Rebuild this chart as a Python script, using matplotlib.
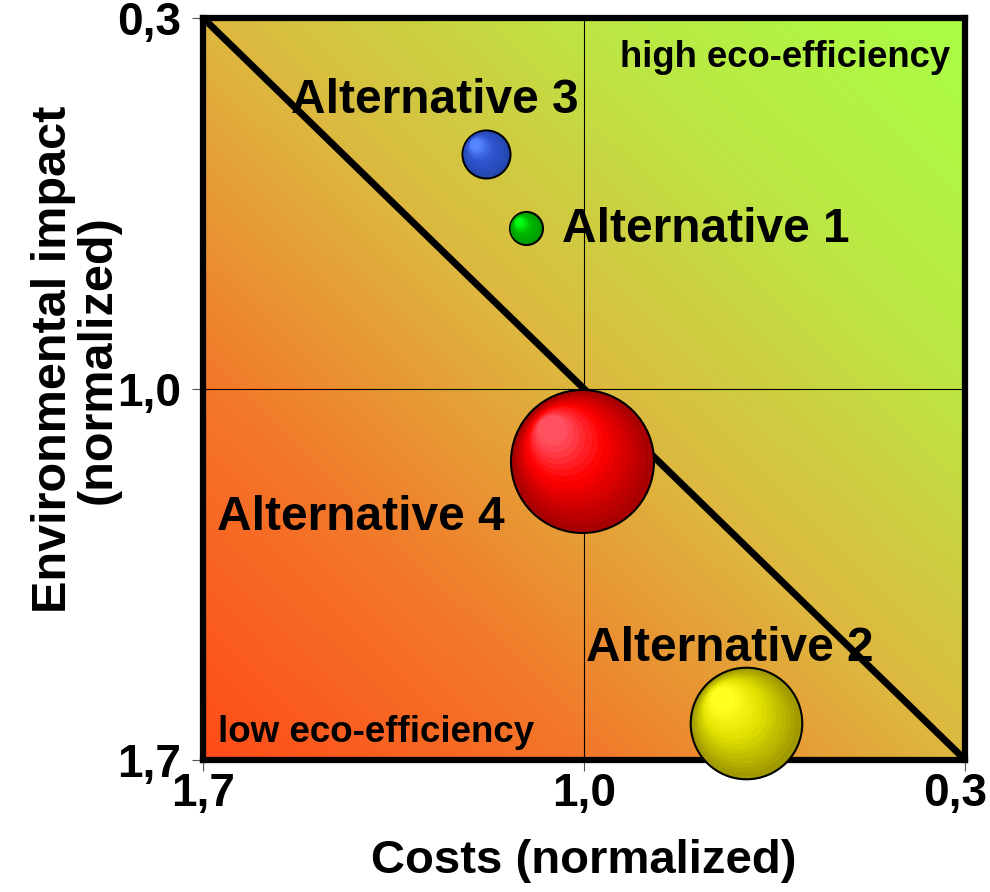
import numpy as np
import matplotlib.pyplot as plt
from matplotlib.colors import LinearSegmentedColormap, to_rgb
from matplotlib.patches import Rectangle
from matplotlib.transforms import offset_copy, ScaledTranslation

plt.rcParams['font.family'] = ['Liberation Sans', 'DejaVu Sans']
plt.rcParams['font.weight'] = 'bold'
plt.rcParams['hatch.linewidth'] = 0.6

# eco-efficiency portfolio
names = ['Alternative 1', 'Alternative 2', 'Alternative 3', 'Alternative 4']
costs = [1.107, 0.703, 1.181, 1.003]
impact = [0.697, 1.630, 0.557, 1.136]
bubble_size = [564, 6455, 1194, 10600]
# edge, body, highlight
bubble_colors = [
    ('#009a00', '#00b800', '#00ff10'),
    ('#a09a00', '#e0e000', '#ffff20'),
    ('#2448b0', '#2f55d0', '#5585ff'),
    ('#a80000', '#ff0000', '#ff5060'),
]
label_pos = [(1.040, 0.700, 'left'), (0.732, 1.489, 'center'),
             (1.274, 0.455, 'center'), (1.410, 1.243, 'center')]

ticks = [1.7, 1.0, 0.3]
tick_labels = ['1,7', '1,0', '0,3']

fig = plt.figure(figsize=(9.9, 8.92), dpi=100)
ax = fig.add_axes([0.205, 0.148, 0.770, 0.832])

# diagonal colour gradient, red-orange (low) to green (high)
cmap = LinearSegmentedColormap.from_list(
    'eco', [(0.0, '#ff3800'), (0.25, '#f26812'), (0.5, '#dab02a'),
            (0.75, '#b6e42f'), (1.0, '#a0ff30')])
n = 400
u = np.linspace(0, 1, n)
grad = (u[None, :] + (1 - u)[:, None]) / 2
ax.imshow(grad, cmap=cmap, extent=(1.7, 0.3, 1.7, 0.3), origin='upper',
          aspect='auto', interpolation='bilinear', zorder=0)
ax.add_patch(Rectangle((0, 0), 1, 1, transform=ax.transAxes, fill=False,
                       hatch='\\' * 22, edgecolor=(1, 1, 1, 0.13), lw=0, zorder=0.5))

ax.set_xlim(1.7, 0.3)
ax.set_ylim(1.7, 0.3)

ax.axvline(1.0, color='black', lw=0.8, zorder=1)
ax.axhline(1.0, color='black', lw=0.8, zorder=1)
ax.plot([1.7, 0.3], [0.3, 1.7], color='black', lw=5, solid_capstyle='butt', zorder=2)

# shaded bubbles: stacked discs shrinking toward an upper-left highlight
for x, y, s, (c_edge, c_body, c_hi) in zip(costs, impact, bubble_size, bubble_colors):
    r = np.sqrt(s) / 2
    ax.scatter([x], [y], s=s, color=c_edge, edgecolors='black', linewidths=1.5,
               zorder=5, clip_on=False)
    steps = 14
    for k in range(1, steps + 1):
        f = 1 - 0.78 * k / steps
        t = k / steps
        if t < 0.55:
            a = t / 0.55
            col = (1 - a) * np.array(to_rgb(c_edge)) + a * np.array(to_rgb(c_body))
        else:
            a = (t - 0.55) / 0.45
            col = (1 - a) * np.array(to_rgb(c_body)) + a * np.array(to_rgb(c_hi))
        off = (1 - f) * r * 0.55
        tr = offset_copy(ax.transData, fig=fig, x=-off, y=off, units='points')
        ax.scatter([x], [y], s=(2 * r * f * 0.97) ** 2, color=col, linewidths=0,
                   transform=tr, zorder=5 + k * 0.01, clip_on=False)

for name, (lx, ly, ha) in zip(names, label_pos):
    ax.text(lx, ly, name, fontsize=34.5, fontweight='bold', ha=ha, va='center', zorder=7)

ax.text(0.328, 0.374, 'high eco-efficiency', fontsize=26.3, fontweight='bold',
        ha='right', va='center', zorder=7)
ax.text(1.672, 1.649, 'low eco-efficiency', fontsize=26.5, fontweight='bold',
        ha='left', va='center', zorder=7)

for sp in ax.spines.values():
    sp.set_linewidth(4.5)
    sp.set_zorder(4)

ax.set_xticks(ticks)
ax.set_xticklabels(tick_labels)
ax.set_yticks(ticks)
ax.set_yticklabels(tick_labels)
ax.tick_params(axis='both', direction='out', length=8, width=0.8, color='#555555',
               labelsize=33)
ax.tick_params(axis='x', pad=1)
ax.tick_params(axis='y', pad=8)

# keep the right-most cost label inside the figure
last = ax.get_xticklabels()[-1]
last.set_transform(last.get_transform() + ScaledTranslation(-10 / 100, 0, fig.dpi_scale_trans))

ax.set_xlabel('Costs (normalized)', fontsize=34, fontweight='bold', labelpad=16)
ax.set_ylabel('Environmental impact\n(normalized)', fontsize=35, fontweight='bold',
              linespacing=1.0)
ax.yaxis.set_label_coords(-0.108, 0.54)

fig.savefig('out.png', dpi=100)
